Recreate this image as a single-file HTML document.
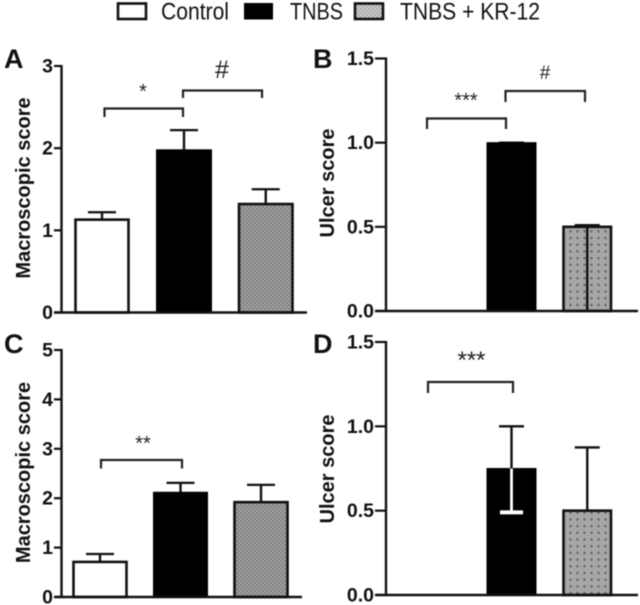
<!DOCTYPE html>
<html lang="en">
<head>
<meta charset="utf-8">
<title>Macroscopic and ulcer scores</title>
<style>
html,body{margin:0;padding:0;background:#fff;width:640px;height:605px;overflow:hidden}
svg{display:block;filter:blur(0.45px)}
text{font-family:"Liberation Sans",sans-serif;fill:#111}
.tick{font-size:19.5px;font-weight:bold;text-anchor:end}
.ylab{font-size:20px;font-weight:bold;text-anchor:middle}
.letter{font-size:27px;font-weight:bold}
.leg{font-size:24px}
.sig{text-anchor:middle;fill:#222}
</style>
</head>
<body>
<svg id="chart" xmlns="http://www.w3.org/2000/svg" width="640" height="605" viewBox="0 0 640 605">
<defs>
<pattern id="dither" width="4" height="4" patternUnits="userSpaceOnUse">
<rect width="4" height="4" fill="#a6a6a6"/>
<rect width="2" height="2" fill="#7e7e7e"/>
<rect x="2" y="2" width="2" height="2" fill="#7e7e7e"/>
</pattern>
<pattern id="ditherLight" width="4" height="4" patternUnits="userSpaceOnUse">
<rect width="4" height="4" fill="#cfcfcf"/>
<rect width="2" height="2" fill="#a8a8a8"/>
<rect x="2" y="2" width="2" height="2" fill="#a8a8a8"/>
</pattern>
<pattern id="dots" width="7" height="6.7" patternUnits="userSpaceOnUse">
<rect width="7" height="6.7" fill="#a6a6a6"/>
<rect x="2.5" y="2.5" width="2" height="2" fill="#5a5a5a"/>
</pattern>
</defs>
<g>
<rect x="118" y="3.5" width="28" height="15.5" fill="#fff" stroke="#111" stroke-width="2.6"/>
<text class="leg" x="161" y="19.5" textLength="68" lengthAdjust="spacingAndGlyphs">Control</text>
<rect x="244" y="3" width="29" height="16.5" fill="#000"/>
<text class="leg" x="290" y="19.5" textLength="53" lengthAdjust="spacingAndGlyphs">TNBS</text>
<rect x="355" y="3.5" width="28" height="15.5" fill="url(#ditherLight)" stroke="#111" stroke-width="2.6"/>
<text class="leg" x="400" y="19.5" textLength="140" lengthAdjust="spacingAndGlyphs">TNBS + KR-12</text>
</g>
</svg>
<script>
// Panel A data
var panelATicks = [0, 1, 2, 3];
var panelAValues = [1.13, 1.98, 1.32];
var panelAErrors = [0.09, 0.24, 0.18];
// Panel B data
var panelBTicks = [0, 0.5, 1, 1.5];
var panelBValues = [0, 1, 0.5];
var panelBErrors = [0, 0, 0.01];
// Panel C data
var panelCTicks = [0, 1, 2, 3, 4, 5];
var panelCValues = [0.71, 2.12, 1.92];
var panelCErrors = [0.16, 0.19, 0.35];
// Panel D data
var panelDTicks = [0, 0.5, 1, 1.5];
var panelDValues = [0, 0.75, 0.5];
var panelDErrors = [0, 0.25, 0.375];
var panelDLowerErrors = [0, 0.26, 0];
var categories = ['control', 'tnbs', 'tnbs-kr12'];

var NS = 'http://www.w3.org/2000/svg';
var svg = document.getElementById('chart');

function make(parent, tag, attrs) {
  var el = document.createElementNS(NS, tag);
  for (var k in attrs) el.setAttribute(k, attrs[k]);
  parent.appendChild(el);
  return el;
}
function line(parent, x1, y1, x2, y2, w, color) {
  return make(parent, 'line', {x1: x1, y1: y1, x2: x2, y2: y2, stroke: color || '#111', 'stroke-width': w});
}

function drawPanel(p) {
  var g = make(svg, 'g', {});
  
  
  var maxTick = p.ticks[p.ticks.length - 1];
  function yScale(v) { return p.y0 + (p.yTop - p.y0) * v / maxTick; }

  var letter = make(g, 'text', {'class': 'letter', x: p.letterX, y: p.letterY});
  letter.textContent = p.id.toUpperCase();
  
  

  var title = make(g, 'text', {'class': 'ylab', transform: 'translate(' + p.titleX + ' ' + p.titleY + ') rotate(-90)'});
  title.textContent = p.title;
  
  

  p.values.forEach(function (v, i) {
    if (v <= 0) return;
    var x = p.barX[i], w = p.barW[i], top = yScale(v);
    var up = yScale(v + p.errors[i]);
    var cx = x + w / 2;
    var errGroup = make(g, 'g', {});
    
    
    line(errGroup, cx, top, cx, up, 2.4);
    line(errGroup, cx - p.capW, up, cx + p.capW, up, 2.3);

    var bar = make(g, 'rect', {
      x: x, y: top, width: w, height: p.y0 - top,
      fill: i === 0 ? '#fff' : (i === 1 ? '#000' : 'url(#' + p.pattern + ')'),
      stroke: i === 1 ? '#000' : '#111', 'stroke-width': i === 1 ? 1 : 2.6
    });
    
    

    if (p.errorInside && p.errorInside[i] > 0) {
      var low = yScale(v - p.errorInside[i]);
      line(g, cx, top, cx, low, 2.8, '#fff');
      line(g, cx - 11.5, low, cx + 11.5, low, 4, '#fff');
    }
    if (p.midLine && i === 2) {
      line(g, cx, top, cx, p.y0, 2.4);
    }
  });

  var axis = make(g, 'g', {});
  
  
  line(axis, p.axisX, yScale(maxTick) - 1, p.axisX, p.y0 + 1, 2.4);
  line(axis, p.axisX - p.tickLen, p.y0, p.xEnd, p.y0, 2.4);
  p.ticks.forEach(function (t) {
    var y = yScale(t);
    line(axis, p.axisX - p.tickLen, y, p.axisX, y, 2.2);
    var lab = make(axis, 'text', {'class': 'tick', x: p.axisX - p.tickLen - 1, y: y + 6.5});
    lab.textContent = p.tickFmt ? t.toFixed(1) : String(t);
    
    
  });

  p.brackets.forEach(function (b) {
    var br = make(g, 'g', {});
    
    
    make(br, 'path', {d: 'M' + b[0] + ' ' + b[3] + 'V' + b[2] + 'H' + b[1] + 'V' + b[3], fill: 'none', stroke: '#222', 'stroke-width': 2.2});
    var s = make(br, 'text', {'class': 'sig', x: b[5], y: b[6], 'font-size': b[7]});
    s.textContent = b[4];
    
    
  });
}

drawPanel({id: 'a', title: 'Macroscopic score', ticks: panelATicks, values: panelAValues, errors: panelAErrors,
  axisX: 61.5, tickLen: 7.5, xEnd: 307, y0: 312.5, yTop: 66, barX: [75.5, 156.5, 239], barW: [53, 55, 53.5], capW: 14, pattern: 'dither',
  letterX: 4, letterY: 68, titleX: 30, titleY: 188,
  brackets: [[104.5, 183, 108.5, 117, '*', 143, 98, 20], [183, 262, 90.5, 98, '#', 222, 78, 25]]});
drawPanel({id: 'b', title: 'Ulcer score', ticks: panelBTicks, values: panelBValues, errors: panelBErrors, tickFmt: true,
  axisX: 386, tickLen: 11, xEnd: 638, y0: 311, yTop: 58.5, barX: [0, 487, 563.5], barW: [0, 49, 47.5], capW: 12.5, pattern: 'dots', midLine: true,
  letterX: 313, letterY: 68, titleX: 334, titleY: 183,
  brackets: [[427, 506, 118.5, 129, '***', 466, 107, 20], [505.5, 585, 91, 102, '#', 545, 79, 19]]});
drawPanel({id: 'c', title: 'Macroscopic score', ticks: panelCTicks, values: panelCValues, errors: panelCErrors,
  axisX: 61.5, tickLen: 7.5, xEnd: 302, y0: 597, yTop: 350, barX: [73.5, 153.5, 234.5], barW: [53, 54, 53], capW: 14, pattern: 'dither',
  letterX: 4, letterY: 353, titleX: 30, titleY: 472.5,
  brackets: [[101, 182, 460, 468.5, '**', 143, 450, 20]]});
drawPanel({id: 'd', title: 'Ulcer score', ticks: panelDTicks, values: panelDValues, errors: panelDErrors, errorInside: panelDLowerErrors, tickFmt: true,
  axisX: 386, tickLen: 11, xEnd: 638, y0: 595, yTop: 342, barX: [0, 487, 563.5], barW: [0, 49, 47.5], capW: 12.5, pattern: 'dots',
  letterX: 313, letterY: 353, titleX: 334, titleY: 469,
  brackets: [[428, 513, 382, 393, '***', 471.5, 368, 24]]});
</script>
</body>
</html>
